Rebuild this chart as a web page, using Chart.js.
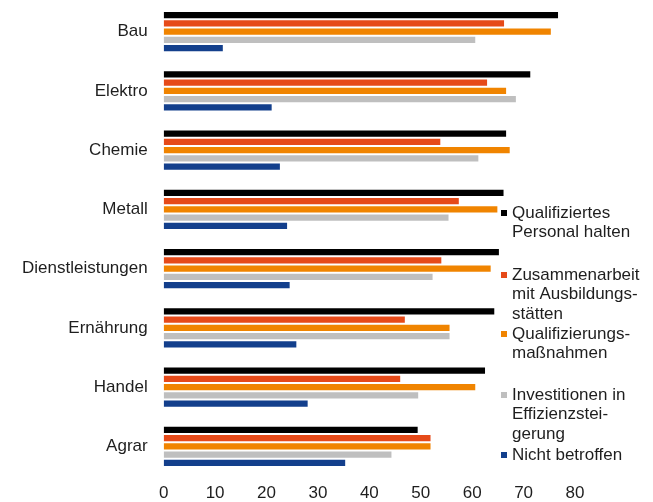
<!DOCTYPE html>
<html lang="de">
<head>
<meta charset="utf-8">
<title>Branchen</title>
<script src="https://cdn.jsdelivr.net/npm/chart.js@4"></script>
<style>
  html, body { margin: 0; padding: 0; background: #fff; }
  #myChart { display: block; }
</style>
</head>
<body>
<canvas id="myChart" width="653" height="502"></canvas>
<script>
'use strict';

// ********** DATA **********

let branchen = ['Bau', 'Elektro', 'Chemie', 'Metall', 'Dienstleistungen', 'Ernährung', 'Handel', 'Agrar'];

let personalHalten   = [76.7, 71.3, 66.6, 66.1, 65.2, 64.3, 62.5, 49.4];
let zusammenarbeit   = [66.2, 62.9, 53.8, 57.4, 54.0, 46.9, 46.0, 51.9];
let qualifizierung   = [75.3, 66.6, 67.3, 64.9, 63.6, 55.6, 60.6, 51.9];
let investitionen    = [60.6, 68.5, 61.2, 55.4, 52.3, 55.6, 49.5, 44.3];
let nichtBetroffen   = [11.5, 21.0, 22.6, 24.0, 24.5, 25.8, 28.0, 35.3];

let xTicks = [0, 10, 20, 30, 40, 50, 60, 70, 80];

// legend text, one entry per line
let legendLines = [
  ['Qualifiziertes', 'Personal halten'],
  ['Zusammenarbeit', 'mit Ausbildungs-', 'stätten'],
  ['Qualifizierungs-', 'maßnahmen'],
  ['Investitionen in', 'Effizienzstei-', 'gerung'],
  ['Nicht betroffen']
];

// ********** STYLE **********

let colors = ['#000000', '#E64A19', '#F08400', '#BFBFBF', '#133F8C'];
let legendTop = [213, 275, 334, 395, 455];
let fontFamily = '"Liberation Sans", Arial, sans-serif';
let textColor = '#1e1e1e';

// ********** LEGEND PLUGIN **********

// legend sits over the right part of the plot, lines wrapped by hand
let sideLegend = {
  id: 'sideLegend',
  afterDraw(chart) {
    let ctx = chart.ctx;
    ctx.save();
    ctx.font = '17px ' + fontFamily;
    ctx.textBaseline = 'middle';
    ctx.textAlign = 'left';
    for (let i = 0; i < legendLines.length; i++) {
      let y = legendTop[i];
      ctx.fillStyle = colors[i];
      ctx.fillRect(501, y - 3, 6, 6);
      ctx.fillStyle = textColor;
      for (let j = 0; j < legendLines[i].length; j++) {
        ctx.fillText(legendLines[i][j], 512, y + j * 19.5);
      }
    }
    ctx.restore();
  }
};

// ********** HELPER FUNCTIONS **********

// drop the extra room the scales ask for around their end labels
function noScalePadding(axis) {
  axis.paddingTop = 0;
  axis.paddingBottom = 0;
  axis.paddingLeft = 0;
  axis.paddingRight = 0;
}

// ********** CHART **********

let displayResults = document.querySelector('#myChart');

let seriesNames = ['Qualifiziertes Personal halten', 'Zusammenarbeit mit Ausbildungsstätten',
  'Qualifizierungsmaßnahmen', 'Investitionen in Effizienzsteigerung', 'Nicht betroffen'];
let seriesData = [personalHalten, zusammenarbeit, qualifizierung, investitionen, nichtBetroffen];

let datasets = [];
for (let i = 0; i < seriesData.length; i++) {
  datasets.push({
    label: seriesNames[i],
    data: seriesData[i],
    backgroundColor: colors[i],
    borderWidth: 0,
    categoryPercentage: 0.7,
    barPercentage: 0.76
  });
}

Chart.defaults.font.family = fontFamily;
Chart.defaults.font.size = 17;
Chart.defaults.color = textColor;

new Chart(displayResults, {
  type: 'bar',
  data: { labels: branchen, datasets: datasets },
  options: {
    indexAxis: 'y',
    responsive: false,
    animation: false,
    layout: { padding: { left: 6, right: 78, top: 2, bottom: 0 } },
    plugins: {
      legend: { display: false },
      tooltip: { enabled: false }
    },
    scales: {
      x: {
        min: 0,
        max: 80,
        afterBuildTicks(axis) { axis.ticks = xTicks.map(v => ({ value: v })); },
        afterFit(axis) {
          noScalePadding(axis);
          axis.height = 26;
        },
        grid: { display: false, drawTicks: false },
        border: { display: false },
        ticks: { padding: 7, color: textColor }
      },
      y: {
        afterFit: noScalePadding,
        grid: { display: false, drawTicks: false },
        border: { display: false },
        ticks: { padding: 16, color: textColor }
      }
    }
  },
  plugins: [sideLegend]
});
</script>
</body>
</html>
